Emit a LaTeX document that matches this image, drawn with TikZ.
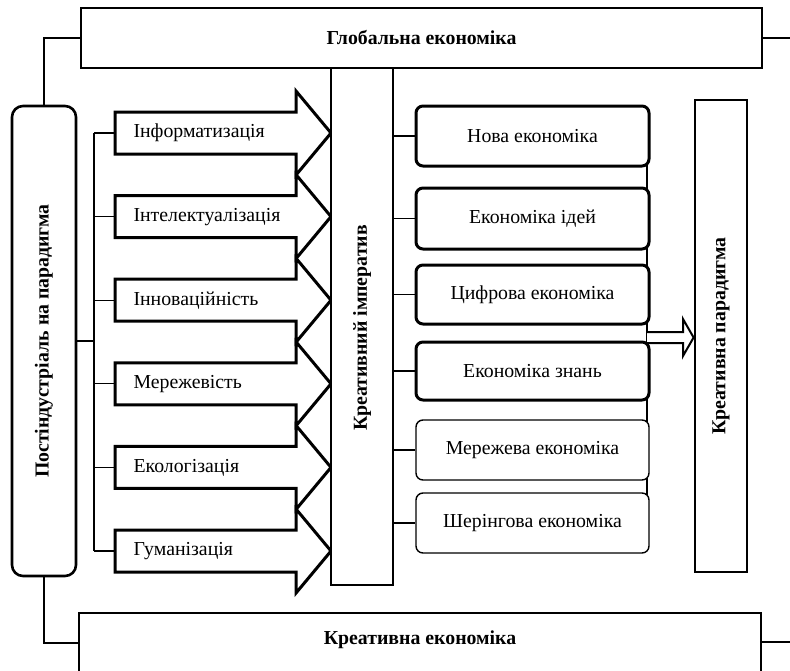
\documentclass[tikz,border=0pt]{standalone}
\usepackage{fontspec}
\setmainfont{Liberation Serif}
\begin{document}
\begin{tikzpicture}[x=1pt,y=-1pt,
  txt/.style={font=\fontsize{19.8}{23}\selectfont},
  btxt/.style={font=\fontsize{19.8}{23}\selectfont\bfseries},
  conn/.style={line width=1.3pt},
  bigbox/.style={draw, line width=2.2pt, fill=white, inner sep=0pt},
  blockarrow/.style={draw, line width=3pt, fill=white, line join=miter},
  ecobox/.style={draw, rounded corners=7pt, fill=white, inner sep=0pt, minimum width=233pt, txt},
  thickeco/.style={ecobox, line width=3pt},
  thineco/.style={ecobox, line width=1.4pt},
  dblarrow/.style={draw, line width=2pt, fill=white, line join=miter}
]
\useasboundingbox (0,0) rectangle (790,670);

% top and bottom boxes
\node[bigbox, minimum width=681pt, minimum height=60pt, btxt] (glob) at (421.5,38) {Глобальна економіка};
\node[bigbox, minimum width=682pt, minimum height=60pt] (kre) at (420,643) {};
\node[btxt] (kretxt) at (420,640) {Креативна економіка};
\coordinate (gend) at (790,38);
\coordinate (kend) at (790,642);
\draw[conn] (glob.east) -- (gend);
\draw[conn] (kre.east |- kend) -- (kend);

% left box
\node[bigbox, line width=2.6pt, rounded corners=11pt, minimum width=64pt, minimum height=470pt] (post) at (44,341) {};
\node[btxt, rotate=90] (posttxt) at (44,341) {Постіндустріаль на парадигма};
\draw[conn] (glob.west) -| (post.north);
\draw[conn] (post.south) |- (kre.west);

% block arrows
\foreach \c/\t [count=\i] in {133/Інформатизація, 216.6/Інтелектуалізація, 300.2/Інноваційність, 383.8/Мережевість, 467.4/Екологізація, 551/Гуманізація}{
  \draw[blockarrow] (115,\c-21) -- (296,\c-21) -- (296,\c-42) -- (331,\c) -- (296,\c+42) -- (296,\c+21) -- (115,\c+21) -- cycle;
  \node[txt, anchor=west] (a\i) at (130,\c) {\t};
  \coordinate (at\i) at (115,\c);
  \coordinate (bt\i) at (94,\c);
  \draw[conn] (bt\i) -- (at\i);
}
\draw[conn] (bt1) -- (bt6);
\draw[conn] (post.east) -- (post.east -| bt1);

% central box
\node[bigbox, minimum width=62pt, minimum height=517pt] (imp) at (362,326.5) {};
\node[btxt, rotate=90] (imptxt) at (362,328) {Креативний імператив};

% right thin bracket line
\coordinate (rb1) at (647,136);
\coordinate (rb2) at (647,523);
\draw[conn] (rb1) -- (rb2);

% economy boxes
\node[thickeco, minimum height=60pt] (e1) at (532.5,136) {Нова економіка};
\node[thickeco, minimum height=61pt] (e2) at (532.5,218.5) {Економіка ідей};
\node[thickeco, minimum height=59pt] (e3) at (532.5,294.5) {Цифрова економіка};
\node[thickeco, minimum height=58pt] (e4) at (532.5,371) {Економіка знань};
\node[thineco, minimum height=60pt] (e5) at (532.5,450) {Мережева економіка};
\node[thineco, minimum height=60pt] (e6) at (532.5,523) {Шерінгова економіка};
\foreach \i in {1,...,6}{
  \draw[conn] (imp.east |- e\i.west) -- (e\i.west);
}

% right box
\node[bigbox, line width=2.8pt, minimum width=52pt, minimum height=472pt] (par) at (721,336) {};
\node[btxt, rotate=90] (partxt) at (721,336) {Креативна парадигма};

% double arrow
\coordinate (ds) at (647,337.5);
\draw[dblarrow] (647,332) -- (683,332) -- (683,319) -- (par.west |- ds) -- (683,356) -- (683,343) -- (647,343);
\end{tikzpicture}
\end{document}
